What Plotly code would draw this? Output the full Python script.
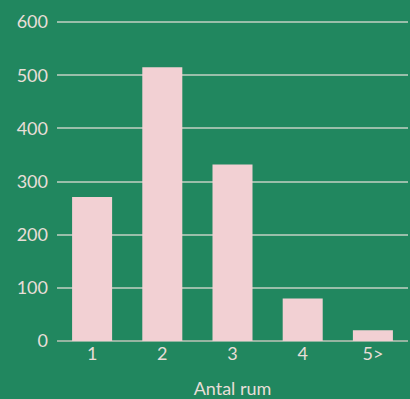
import plotly.graph_objects as go

# Number of rooms per dwelling
rooms = ["1", "2", "3", "4", "5>"]
counts = [271, 515, 332, 80, 20]

bg = "#21875f"
text_col = "#e8ded8"

fig = go.Figure(
    go.Bar(
        x=rooms,
        y=counts,
        marker=dict(color="#f2d0d3", line=dict(width=0)),
        hoverinfo="x+y",
    )
)

fig.update_layout(
    width=410,
    height=399,
    margin=dict(l=57, r=2, t=21, b=58),
    paper_bgcolor=bg,
    plot_bgcolor=bg,
    bargap=0.43,
    showlegend=False,
    font=dict(family="Lato", size=18, color=text_col),
    xaxis=dict(
        title=dict(text="Antal rum", font=dict(size=18, color=text_col), standoff=19),
        showgrid=False,
        showline=False,
        ticks="",
        tickfont=dict(size=18, color=text_col),
    ),
    yaxis=dict(
        range=[0, 602],
        tickvals=[0, 100, 200, 300, 400, 500, 600],
        showgrid=True,
        gridcolor="rgba(220,220,210,0.65)",
        gridwidth=1.5,
        zeroline=True,
        zerolinecolor="rgba(200,200,190,0.7)",
        zerolinewidth=1.5,
        showline=False,
        ticks="",
        ticklabelstandoff=8,
        tickfont=dict(size=18, color=text_col),
    ),
)

fig.write_html("out.html")
